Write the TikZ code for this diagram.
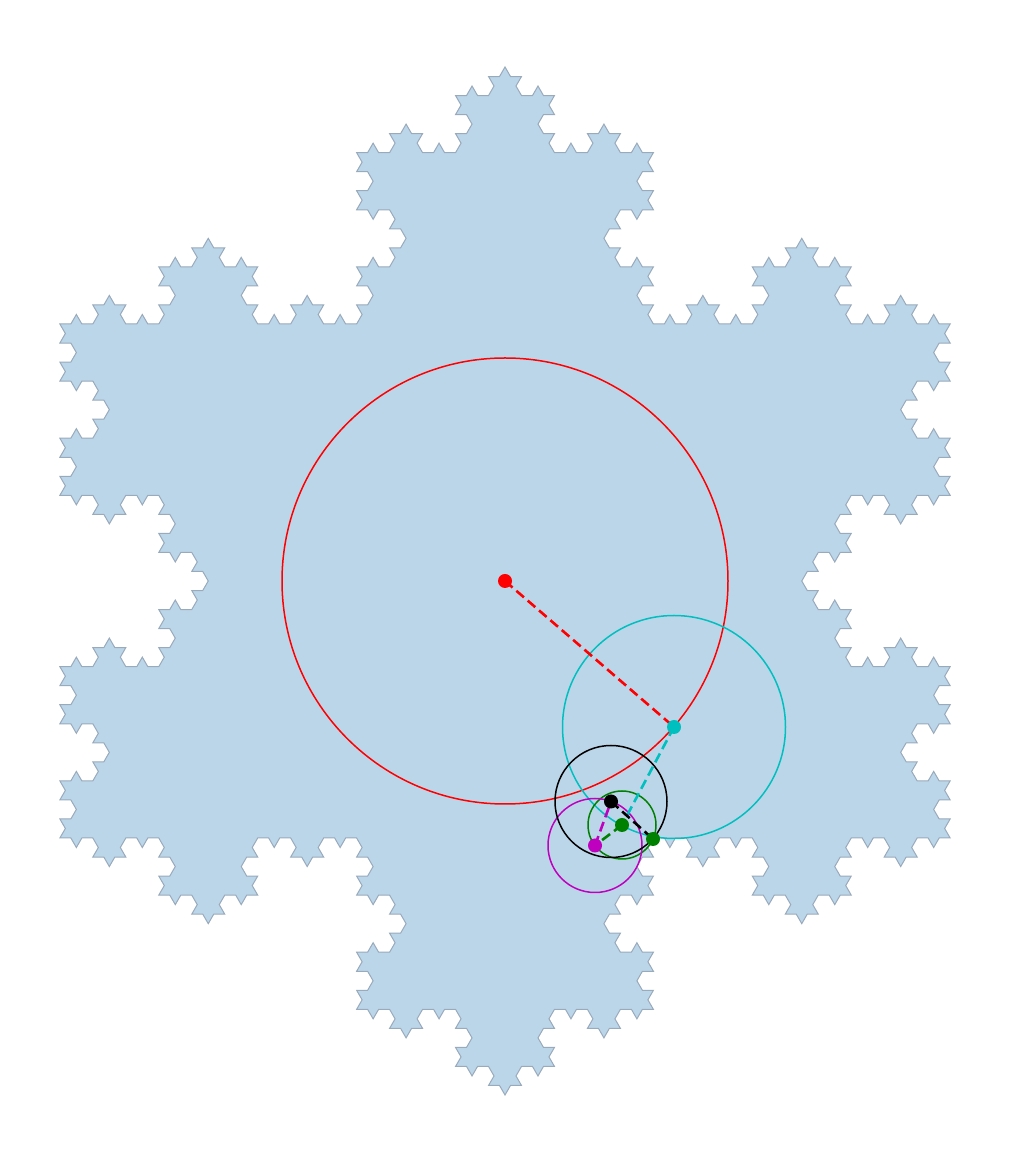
\documentclass[tikz,border=0pt]{standalone}
\usetikzlibrary{lindenmayersystems}
\definecolor{flake}{HTML}{BCD6E9}
\definecolor{flakeedge}{HTML}{98AABB}
\definecolor{mplc}{HTML}{00BFBF}
\definecolor{mplg}{HTML}{008000}
\definecolor{mplm}{HTML}{BF00BF}
\pgfdeclarelindenmayersystem{Koch}{\rule{F -> F-F++F-F}}
\begin{document}
\begin{tikzpicture}[x=1pt,y=1pt,
  circ/.style={line width=1.5pt},
  radline/.style={line width=2.6pt, dash pattern=on 10pt off 5pt},
  dot/.style={circle, inner sep=0pt, minimum size=14pt}]
\useasboundingbox (0,0) rectangle (1010,1162);
\begin{scope}[shift={(59.87,324)}]
\filldraw[fill=flake, draw=flakeedge, line width=1pt, line join=miter]
  [l-system={Koch, axiom=F++F++F, order=4, step=10.991pt, angle=60}] lindenmayer system -- cycle;
\end{scope}
\coordinate (c0) at (505,581);
\coordinate (c1) at (674,435);
\coordinate (c2) at (622,337);
\coordinate (c3) at (595,316.5);
\coordinate (c4) at (611,360.5);
\coordinate (c5) at (653,323);
\draw[red, circ] (c0) circle[radius=223];
\draw[mplc, circ] (c1) circle[radius=111.5];
\draw[mplg, circ] (c2) circle[radius=34];
\draw[mplm, circ] (c3) circle[radius=47];
\draw[black, circ] (c4) circle[radius=56];
\draw[red, radline] (c0) -- (c1);
\draw[mplc, radline] (c1) -- (c2);
\draw[mplg, radline] (c2) -- (c3);
\draw[mplm, radline] (c3) -- (c4);
\draw[black, radline] (c4) -- (c5);
\node[dot, fill=red] (d0) at (c0) {};
\node[dot, fill=mplc] (d1) at (c1) {};
\node[dot, fill=mplg] (d2) at (c2) {};
\node[dot, fill=mplm] (d3) at (c3) {};
\node[dot, fill=black] (d4) at (c4) {};
\node[dot, fill=mplg] (d5) at (c5) {};
\end{tikzpicture}
\end{document}
